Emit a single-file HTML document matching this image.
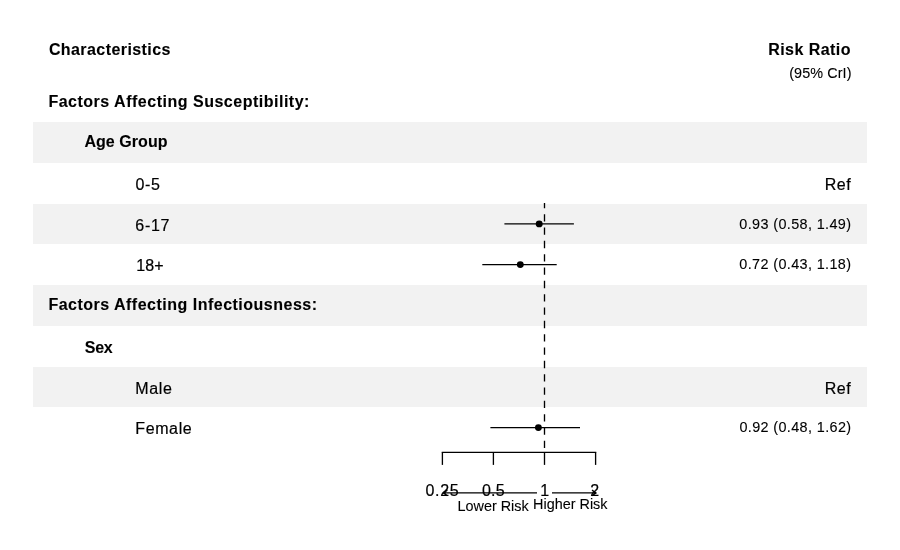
<!DOCTYPE html>
<html><head><meta charset="utf-8"><title>Forest plot</title>
<style>html,body{margin:0;padding:0;background:#fff}svg{display:block}text{font-family:"Liberation Sans",Arial,Helvetica,sans-serif;fill:#000;white-space:pre;stroke:#000;stroke-width:0.1px}.b{font-weight:bold;font-size:16px}.n{font-size:16px;stroke-width:0.2px}.s{font-size:14.4px}.t{font-size:14.4px}</style></head><body>
<svg width="900" height="550" viewBox="0 0 900 550">
<rect width="900" height="550" fill="#fff"/>
<rect x="33" y="122" width="834" height="41" fill="#f2f2f2"/>
<rect x="33" y="204" width="834" height="40" fill="#f2f2f2"/>
<rect x="33" y="285" width="834" height="41" fill="#f2f2f2"/>
<rect x="33" y="367" width="834" height="40" fill="#f2f2f2"/>
<text class="b" x="48.88" y="55" style="letter-spacing:0.423px">Characteristics</text>
<text class="b" x="768.20" y="55" style="letter-spacing:0.453px">Risk Ratio</text>
<text class="s" x="789.20" y="78" style="letter-spacing:0.090px">(95% CrI)</text>
<text class="b" x="48.40" y="107" style="letter-spacing:0.508px">Factors Affecting Susceptibility:</text>
<text class="b" x="84.43" y="147" style="letter-spacing:0.059px">Age Group</text>
<text class="n" x="135.48" y="190" style="letter-spacing:0.662px">0-5</text>
<text class="n" x="135.35" y="231" style="letter-spacing:0.700px">6-17</text>
<text class="n" x="136.28" y="271" style="letter-spacing:0.075px">18+</text>
<text class="b" x="48.40" y="310" style="letter-spacing:0.495px">Factors Affecting Infectiousness:</text>
<text class="b" x="84.70" y="353" style="letter-spacing:-0.200px">Sex</text>
<text class="n" x="135.25" y="394" style="letter-spacing:0.683px">Male</text>
<text class="n" x="135.25" y="434" style="letter-spacing:0.620px">Female</text>
<text class="n" x="824.65" y="190" style="letter-spacing:0.525px">Ref</text>
<text class="n" x="824.65" y="394" style="letter-spacing:0.525px">Ref</text>
<text class="s" x="739.30" y="229" style="letter-spacing:0.380px">0.93 (0.58, 1.49)</text>
<text class="s" x="739.30" y="269" style="letter-spacing:0.380px">0.72 (0.43, 1.18)</text>
<text class="s" x="739.40" y="432" style="letter-spacing:0.380px">0.92 (0.48, 1.62)</text>
<text class="n" x="425.58" y="496" style="letter-spacing:0.640px">0.25</text>
<text class="n" x="481.90" y="496" style="letter-spacing:0.300px">0.5</text>
<text class="n" x="540.30" y="496">1</text>
<text class="n" x="590.21" y="496">2</text>
<text class="t" x="457.50" y="511">Lower Risk</text>
<text class="t" x="533.10" y="509">Higher Risk</text>
<line x1="544.5" y1="203" x2="544.5" y2="452.35" stroke="#000" stroke-width="1.33" stroke-dasharray="7.3 6.03" stroke-dashoffset="2.13"/>
<line x1="504.4" y1="223.9" x2="573.9" y2="223.9" stroke="#000" stroke-width="1.33"/>
<circle cx="539.2" cy="223.9" r="3.45" fill="#000"/>
<line x1="482.3" y1="264.6" x2="556.7" y2="264.6" stroke="#000" stroke-width="1.33"/>
<circle cx="520.3" cy="264.6" r="3.45" fill="#000"/>
<line x1="490.4" y1="427.6" x2="580.0" y2="427.6" stroke="#000" stroke-width="1.33"/>
<circle cx="538.4" cy="427.6" r="3.45" fill="#000"/>
<path d="M442.4 452.35H595.6" stroke="#000" stroke-width="1.33" fill="none" stroke-linecap="square"/>
<line x1="442.4" y1="452.35" x2="442.4" y2="464.9" stroke="#000" stroke-width="1.33"/>
<line x1="493.4" y1="452.35" x2="493.4" y2="464.9" stroke="#000" stroke-width="1.33"/>
<line x1="544.5" y1="452.35" x2="544.5" y2="464.9" stroke="#000" stroke-width="1.33"/>
<line x1="595.6" y1="452.35" x2="595.6" y2="464.9" stroke="#000" stroke-width="1.33"/>
<path d="M537 492.9H443.6M447.4 490.1L443.4 492.9L447.4 495.7" stroke="#000" stroke-width="1.33" fill="none"/>
<path d="M552 492.9H595.8M592 490.1L596 492.9L592 495.7" stroke="#000" stroke-width="1.33" fill="none"/>
</svg></body></html>
